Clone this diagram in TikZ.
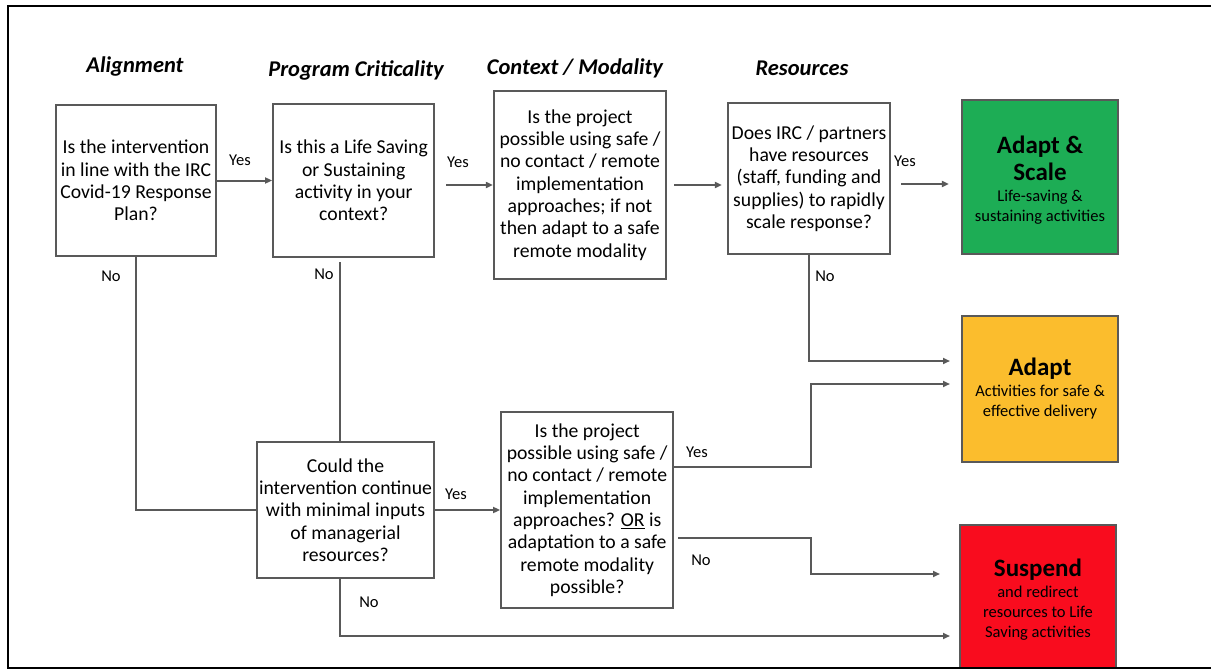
\documentclass[tikz,border=0pt]{standalone}
\usepackage{fontspec}
\setmainfont{Carlito}
\usetikzlibrary{positioning,arrows.meta}

\definecolor{boxgray}{HTML}{595959}
\definecolor{scalegreen}{HTML}{1DAD55}
\definecolor{adaptorange}{HTML}{FBBD2D}
\definecolor{suspendred}{HTML}{F90C1E}

\newcommand{\outtitle}{\fontsize{25}{27}\selectfont\bfseries}

\tikzset{
	qbox/.style={draw=boxgray, line width=2.2pt, align=center, inner sep=1pt,
			font=\fontsize{19.7}{22.3}\selectfont},
	outbox/.style={draw=boxgray, line width=2.2pt, align=center, inner sep=1pt,
			minimum width=156pt, font=\fontsize{16.5}{20}\selectfont},
	flow/.style={draw=boxgray, line width=2pt},
	flowarrow/.style={flow, -{Triangle[length=7pt,width=6pt]}},
	answer/.style={font=\fontsize{16.5}{18}\selectfont, inner sep=0pt},
	header/.style={font=\fontsize{22.5}{25}\selectfont\bfseries\itshape, inner sep=0pt}
}

\begin{document}
\begin{tikzpicture}[x=1pt, y=-1pt]

	\useasboundingbox (0,0) rectangle (1211,669);

	% column headers
	\node[header] (hAlign) at (135,67) {Alignment};
	\node[header] (hCrit) at (356,70) {Program Criticality};
	\node[header] (hModal) at (575,68) {Context / Modality};
	\node[header] (hRes) at (802,68) {Resources};

	% questions
	\node[qbox, minimum width=160pt, minimum height=151pt] (align) at (136,180.5)
		{Is the intervention\\in line with the IRC\\Covid-19 Response\\Plan?};
	\node[qbox, minimum width=161pt, minimum height=153pt, right=55pt of align] (crit)
		{Is this a Life Saving\\or Sustaining\\activity in your\\context?};
	\node[qbox, minimum width=172pt, minimum height=188pt] (modal) at (580,185)
		{Is the project\\possible using safe /\\no contact / remote\\implementation\\approaches; if not\\then adapt to a safe\\remote modality};
	\node[qbox, minimum width=162pt, minimum height=151pt] (res) at (809,178.5)
		{Does IRC / partners\\have resources\\(staff, funding and\\supplies) to rapidly\\scale response?};
	\node[qbox, minimum width=177pt, minimum height=136pt] (minimal) at (345.5,510)
		{Could the\\intervention continue\\with minimal inputs\\of managerial\\resources?};
	\node[qbox, minimum width=172pt, minimum height=196pt, right=65pt of minimal] (remote)
		{Is the project\\possible using safe /\\no contact / remote\\implementation\\approaches? \underline{OR} is\\adaptation to a safe\\remote modality\\possible?};

	% outcomes
	\node[outbox, fill=scalegreen, minimum height=154pt] (scale) at (1040,177)
		{\rule{0pt}{24pt}{\outtitle Adapt \&}\\[4pt]{\outtitle Scale}\\[1pt]Life-saving \&\\sustaining activities};
	\node[outbox, fill=adaptorange, minimum height=146pt] (adapt) at (1040,389)
		{{\outtitle Adapt}\\[1pt]Activities for safe \&\\effective delivery};
	\node[outbox, fill=suspendred, minimum height=150pt] (suspend) at (1038,600)
		{{\outtitle Suspend}\\[1pt]and redirect\\resources to Life\\Saving activities};

	\coordinate (inAdaptHi) at (962,361);
	\coordinate (inAdaptLo) at (962,384);
	\coordinate (inSuspendHi) at (960,574);
	\coordinate (inSuspendLo) at (960,636);

	% connectors
	\draw[flowarrow] (align) -- (crit);
	\draw[flowarrow, shorten <=11pt] (crit.east |- modal) -- (modal.west);
	\draw[flowarrow, shorten <=7pt, shorten >=5pt] (modal.east) -- (modal.east -| res.west);
	\draw[flowarrow, shorten <=10pt, shorten >=12pt] ([yshift=-5.5pt]res.east) -- ([yshift=-5.5pt]res.east -| scale.west);
	\draw[flowarrow, shorten >=12pt] (res.south) |- (inAdaptHi);
	\draw[flow] (align.south) |- (minimal.west);
	\draw[flow] ([xshift=-13.5pt,yshift=-4pt]crit.south) -- ([xshift=-13.5pt]crit.south |- minimal.north);
	\draw[flowarrow] (minimal) -- (remote);
	\draw[flowarrow, shorten >=12pt] ([yshift=43pt]remote.east) -- ++(137,0) |- (inAdaptLo);
	\draw[flowarrow, shorten >=20pt] ([xshift=4pt,yshift=-28pt]remote.east) -- ++(133,0) |- (inSuspendHi);
	\draw[flowarrow, shorten >=10pt] ([xshift=-5.5pt]minimal.south) |- (inSuspendLo);

	% answers
	\node[answer] (yesAlign) at (240,160) {Yes};
	\node[answer] (yesCrit) at (458,162) {Yes};
	\node[answer] (yesRes) at (905,161) {Yes};
	\node[answer] (noAlign) at (111,276) {No};
	\node[answer] (noCrit) at (324,274) {No};
	\node[answer] (noRes) at (825,276) {No};
	\node[answer] (yesMinimal) at (456,494) {Yes};
	\node[answer] (yesRemote) at (697,452) {Yes};
	\node[answer] (noRemote) at (701,560) {No};
	\node[answer] (noMinimal) at (369,602) {No};

	% frame
	\draw[line width=1.6pt] (1230,6) -| (8,668) -- (1230,668);

\end{tikzpicture}
\end{document}
